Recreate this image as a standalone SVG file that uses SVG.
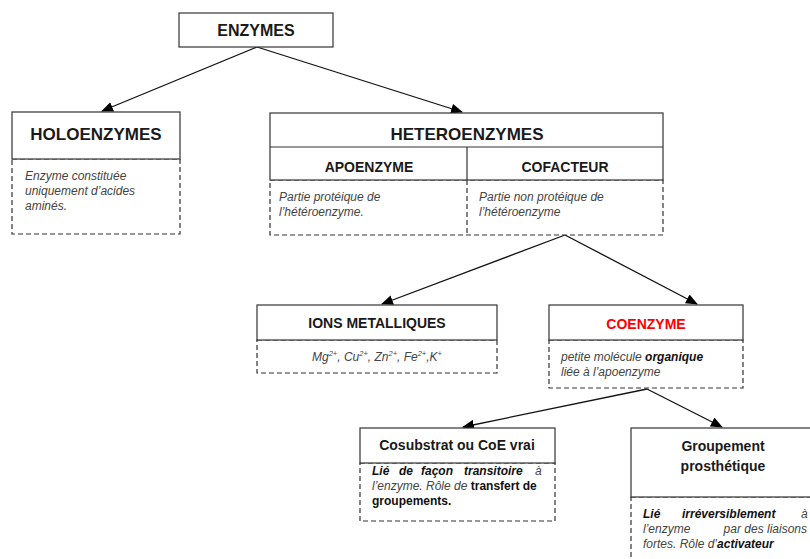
<svg xmlns="http://www.w3.org/2000/svg" width="810" height="559" viewBox="0 0 810 559">
<defs>
<marker id="arr" markerUnits="userSpaceOnUse" markerWidth="12" markerHeight="10" refX="11" refY="5" orient="auto">
<path d="M0,0 L12,5 L0,10 Z" fill="#000"/>
</marker>
<style>
.solid{fill:#fff;stroke:#333;stroke-width:1.2}
.dash{fill:#fff;stroke:#333;stroke-width:1.2;stroke-dasharray:5,3}
.h{font-family:"Liberation Sans",Arial,sans-serif;font-weight:bold;fill:#1a1a1a;text-anchor:middle}
.d{font-family:"Liberation Sans",Arial,sans-serif;font-style:italic;font-size:12px;fill:#444}
.b{font-weight:bold;fill:#111}
.bi{font-weight:bold;font-style:italic;fill:#111}
.con{stroke:#111;stroke-width:1.3;fill:none;marker-end:url(#arr)}
</style>
</defs>
<rect width="810" height="559" fill="#fff"/>

<g id="connectors">
<line class="con" x1="257" y1="47" x2="102" y2="111"/>
<line class="con" x1="257" y1="47" x2="462" y2="112"/>
<line class="con" x1="565" y1="235" x2="382" y2="304"/>
<line class="con" x1="565" y1="235" x2="697" y2="304"/>
<line class="con" x1="647" y1="389" x2="463" y2="427"/>
<line class="con" x1="647" y1="389" x2="722" y2="427"/>
</g>

<g id="enzymes">
<rect class="solid" x="179" y="13" width="154" height="34"/>
<text class="h" x="256" y="36" font-size="16">ENZYMES</text>
</g>

<g id="holoenzymes">
<rect class="dash" x="12" y="159" width="168" height="75"/>
<rect class="solid" x="12" y="112" width="168" height="47"/>
<text class="h" x="96" y="140" font-size="17">HOLOENZYMES</text>
<text class="d" x="25" y="180">Enzyme constituée</text>
<text class="d" x="25" y="195">uniquement d’acides</text>
<text class="d" x="25" y="210">aminés.</text>
</g>

<g id="heteroenzymes">
<rect class="dash" x="270" y="180" width="393" height="55"/>
<line x1="467" y1="180" x2="467" y2="235" stroke="#333" stroke-width="1.2" stroke-dasharray="5,3"/>
<rect class="solid" x="270" y="113" width="393" height="67"/>
<line x1="270" y1="147" x2="663" y2="147" stroke="#333" stroke-width="1.2"/>
<line x1="467" y1="147" x2="467" y2="180" stroke="#333" stroke-width="1.2"/>
<text class="h" x="467" y="140" font-size="17">HETEROENZYMES</text>
</g>

<g id="apoenzyme">
<text class="h" x="369" y="172" font-size="14">APOENZYME</text>
<text class="d" x="279" y="201">Partie protéique de</text>
<text class="d" x="279" y="216">l’hétéroenzyme.</text>
</g>

<g id="cofacteur">
<text class="h" x="565" y="172" font-size="14">COFACTEUR</text>
<text class="d" x="479" y="201">Partie non protéique de</text>
<text class="d" x="479" y="216">l’hétéroenzyme</text>
</g>

<g id="ions">
<rect class="dash" x="257" y="340" width="240" height="33"/>
<rect class="solid" x="257" y="305" width="240" height="35"/>
<text class="h" x="377" y="328" font-size="14">IONS METALLIQUES</text>
<text class="d" x="377" y="361" text-anchor="middle">Mg<tspan font-size="7.5" dy="-5">2+</tspan><tspan dy="5">, Cu</tspan><tspan font-size="7.5" dy="-5">2+</tspan><tspan dy="5">, Zn</tspan><tspan font-size="7.5" dy="-5">2+</tspan><tspan dy="5">, Fe</tspan><tspan font-size="7.5" dy="-5">2+</tspan><tspan dy="5">,K</tspan><tspan font-size="7.5" dy="-5">+</tspan></text>
</g>

<g id="coenzyme">
<rect class="dash" x="549" y="340" width="194" height="48"/>
<rect class="solid" x="549" y="305" width="194" height="35"/>
<text class="h" x="646" y="329" font-size="14" style="fill:#ff0000">COENZYME</text>
<text class="d" x="561" y="361">petite molécule <tspan class="bi">organique</tspan></text>
<text class="d" x="561" y="376">liée à l’apoenzyme</text>
</g>

<g id="cosubstrat">
<rect class="dash" x="360" y="463" width="195" height="58"/>
<rect class="solid" x="360" y="428" width="195" height="35"/>
<text class="h" x="457" y="450" font-size="14">Cosubstrat ou CoE vrai</text>
<text class="d" y="475"><tspan class="bi" x="372">Lié</tspan><tspan class="bi" x="399">de</tspan><tspan class="bi" x="421">façon</tspan><tspan class="bi" x="464">transitoire</tspan><tspan x="535">à</tspan></text>
<text class="d" y="490"><tspan x="372">l’enzyme. Rôle de </tspan><tspan class="b" font-style="normal">transfert de</tspan></text>
<text class="d" y="505"><tspan class="b" font-style="normal" x="372">groupements.</tspan></text>
</g>

<g id="prosthetique">
<rect class="dash" x="631" y="497" width="184" height="70"/>
<rect class="solid" x="631" y="428" width="184" height="69"/>
<text class="h" x="723" y="451" font-size="14">Groupement</text>
<text class="h" x="723" y="471" font-size="14">prosthétique</text>
<text class="d" y="518"><tspan class="bi" x="643">Lié</tspan><tspan class="bi" x="682">irréversiblement</tspan><tspan x="801">à</tspan></text>
<text class="d" y="533"><tspan x="643">l’enzyme</tspan><tspan x="807" text-anchor="end">par des liaisons</tspan></text>
<text class="d" y="548"><tspan x="643">fortes. Rôle d’</tspan><tspan class="bi">activateur</tspan></text>
</g>
</svg>
